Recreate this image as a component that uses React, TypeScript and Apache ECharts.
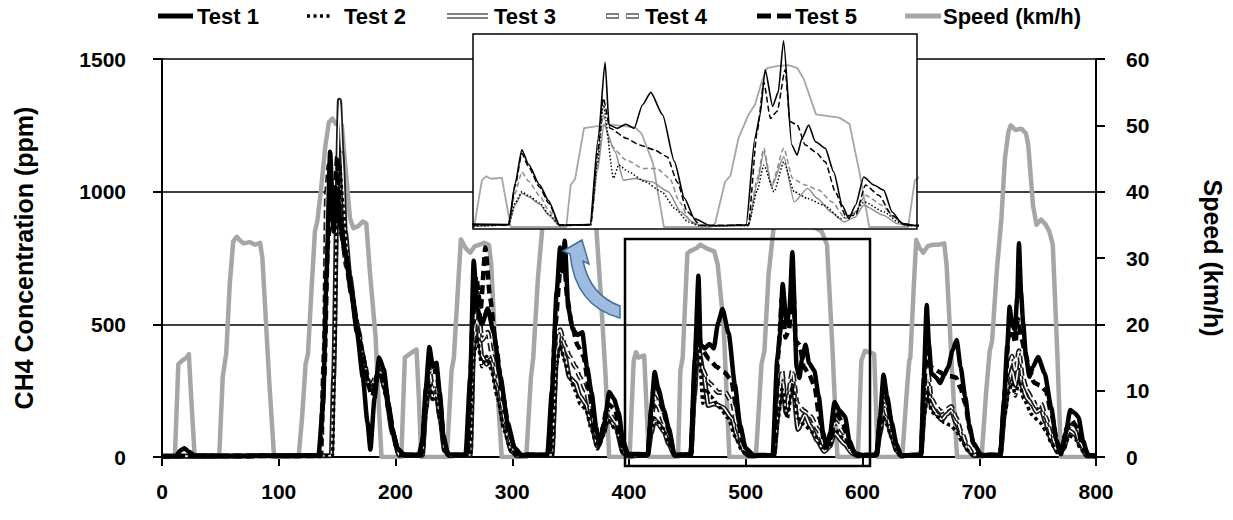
import React, { useEffect, useRef } from "react";
import * as echarts from "echarts";

type Pt = [number, number];

const X_TICKS = { min: 0, max: 800, interval: 100 };
const CH4_TICKS = { min: 0, max: 1500, interval: 500 };
const SPEED_TICKS = { min: 0, max: 60, interval: 10 };
const INSET_RANGE = { xMin: 400, xMax: 600, ch4Max: 800, speedMax: 60 };

const LEGEND_NAMES = ["Test 1", "Test 2", "Test 3", "Test 4", "Test 5", "Speed (km/h)"];

const SPEED: Pt[] = [
  [0, 0], [11, 0], [14, 14], [17, 14.5], [21, 15], [23, 15.5], [25, 9], [28, 0],
  [49, 0], [52, 12], [54, 14.5], [55, 15.5], [58, 26], [61, 32.5], [64, 33.2], [67, 32.6], [70, 32.2], [75, 32.4], [80, 32], [84, 32.3], [86, 30], [92, 11], [96, 0],
  [117, 0], [120, 6], [123, 14], [125, 15.5], [128, 25], [131, 34], [133, 35.5], [136, 40], [140, 47], [143, 50.5], [146, 51], [149, 50.2], [152, 50.5], [154, 50], [157, 44], [161, 36], [164, 34.5], [168, 34.8], [172, 35.5], [175, 35.2], [178, 28], [183, 18], [185, 10], [188, 0],
  [205, 0], [208, 15], [212, 15.5], [216, 16], [218, 16.2], [220, 9], [222, 0],
  [244, 0], [248, 13], [250, 15], [253, 24], [256, 32.8], [260, 31.5], [264, 30.8], [268, 31.8], [272, 32], [276, 32.3], [280, 32], [282, 29], [287, 11], [291, 0],
  [312, 0], [316, 12], [318, 15], [322, 27], [326, 35], [329, 40], [333, 48], [337, 50.5], [342, 51], [346, 50.5], [350, 50], [353, 44], [357, 37], [360, 35], [365, 35.2], [370, 35.5], [372, 34.5], [376, 24], [380, 12], [383, 0],
  [400.5, 0], [404, 14.5], [406, 15.8], [408, 15], [413, 15.3], [417, 0],
  [442, 0], [444, 13], [446, 15], [450, 30.7], [452, 31], [458, 31.5], [461, 32], [466, 31.5], [473, 31], [476, 29], [481, 20], [486, 0],
  [507, 0], [509, 1], [513.5, 14], [516, 16], [519.6, 27.6], [524, 34.8], [527, 38], [530, 45], [532.4, 49.4], [537, 50], [542, 50.3], [546, 49.5], [549, 46], [554.5, 35], [560, 34.5], [565, 34], [569.6, 32], [574, 17.3], [578.5, 0],
  [596, 0], [599, 14.5], [602, 16], [606, 15.8], [610, 15.5], [613, 0],
  [634, 0], [638, 10], [640, 14.5], [641, 15], [644, 26], [646, 32.7], [649, 31.5], [652, 30.8], [656, 31.8], [660, 32], [665, 32], [670, 32.2], [672, 29], [677, 12], [681, 0],
  [702, 0], [706, 10], [709, 16], [711, 17.5], [715, 28], [719, 36], [722, 45], [725, 49], [727, 50], [731, 49.3], [736, 49.5], [740, 48.8], [742, 47], [746, 38], [749, 35], [753, 35.8], [757, 35], [760, 34], [763, 32], [767, 15], [770, 0], [795, 0],
];

const TEST1: Pt[] = [
  [0, 3], [12, 5], [16, 25], [19, 33], [23, 20], [28, 6], [60, 4], [100, 5], [134, 6], [138, 200], [141, 700], [144, 1150], [147, 850], [150, 1000], [153, 880], [157, 770], [162, 620], [167, 470], [172, 300], [176, 130], [178.5, 28], [182, 220], [186, 375], [190, 330], [194, 200], [198, 90], [202, 30], [208, 8],
  [220, 8], [223, 60], [226, 260], [229, 415], [232, 340], [235, 355], [238, 240], [241, 80], [245, 10], [260, 8], [264, 300], [267, 740], [270, 560], [274, 500], [279, 560], [284, 470], [290, 300], [296, 130], [302, 35], [308, 8],
  [330, 8], [334, 250], [338, 620], [341, 790], [343, 700], [345, 815], [348, 560], [352, 480], [356, 460], [360, 470], [364, 340], [368, 240], [372, 110], [374.5, 45], [379, 130], [383, 245], [387, 220], [391, 170], [395, 60], [399, 12],
  [416, 10], [419, 180], [422, 320], [425, 260], [430, 175], [434, 110], [439, 8], [452.7, 10], [456.4, 368], [459.5, 683], [461.3, 423], [465, 409], [468.8, 426], [472.6, 409], [476.3, 506], [480.1, 558], [485.4, 465], [490.7, 272], [495.2, 120], [499.7, 35], [507, 5],
  [523, 8], [527, 368], [529.3, 465], [531.6, 652], [535, 500], [537.5, 560], [539.9, 772], [543.6, 340], [546, 298], [548.2, 368], [551.2, 423], [554.2, 354], [558.7, 326], [562.5, 228], [566.3, 90], [569.3, 35], [572.3, 90], [576, 207], [580.5, 174], [585, 153], [588.8, 62], [593.3, 14], [600.7, 5],
  [612, 8], [615, 150], [618, 310], [621, 230], [625, 130], [629, 50], [633, 6], [650, 8], [652.5, 300], [655, 573], [657, 420], [659, 316], [663, 300], [666.5, 279], [670, 310], [673.5, 339], [677, 400], [680.7, 441], [684, 340], [688, 226], [691.5, 120], [695, 53], [702, 6],
  [718, 8], [721, 200], [724, 420], [726, 566], [728, 500], [730.5, 479], [732.5, 600], [734, 806], [735.8, 620], [737.6, 505], [740, 380], [743, 302], [746, 340], [750.4, 377], [756, 316], [761.6, 188], [766, 64], [770, 10], [774, 90], [778, 177], [782, 165], [785, 150], [789, 60], [793, 8], [800, 5],
];

const TEST2: Pt[] = [
  [0, 3], [146, 5], [148, 400], [150, 900], [152, 1100], [155, 950], [158, 780], [163, 620], [168, 480], [173, 360], [178, 260], [183, 280], [187, 310], [192, 230], [198, 80], [203, 8],
  [223, 8], [226, 170], [229, 280], [232, 210], [235, 220], [238, 140], [242, 20], [246, 5], [264, 8], [267, 380], [270, 450], [274, 340], [278, 380], [282, 330], [287, 230], [293, 100], [299, 20], [304, 5],
  [334, 8], [338, 350], [341, 420], [345, 360], [349, 300], [354, 250], [358, 200], [363, 180], [368, 100], [373, 30], [378, 80], [382, 140], [389, 100], [395, 10], [400, 4],
  [416, 8], [419, 100], [422, 146], [425, 130], [430, 100], [434, 55], [439, 6], [453, 8], [456, 260], [458.7, 506], [463.3, 202], [465.6, 257], [470, 229], [477.6, 187], [485, 146], [491, 76], [497, 21], [502, 5],
  [524, 6], [528, 150], [531, 256], [535.6, 146], [540, 270], [544.7, 146], [550.7, 118], [558.2, 90], [565.7, 35], [571, 50], [576.2, 104], [585.3, 62], [591.3, 21], [596, 5],
  [612, 8], [615, 80], [618, 150], [621, 120], [625, 70], [629, 20], [633, 5], [650, 8], [653, 160], [656, 250], [659, 170], [665, 150], [670, 130], [675, 120], [680, 100], [685, 60], [690, 25], [695, 5],
  [718, 8], [722, 160], [725, 240], [728, 280], [731, 230], [734, 290], [738, 220], [745, 160], [752, 130], [757, 100], [762, 50], [767, 15], [772, 25], [777, 80], [782, 70], [787, 30], [792, 5], [800, 3],
];

const TEST3: Pt[] = [
  [0, 3], [145, 5], [147, 300], [150, 1000], [152, 1345], [154, 1150], [157, 850], [161, 680], [166, 520], [171, 400], [176, 290], [181, 250], [186, 330], [191, 260], [197, 100], [203, 8],
  [223, 8], [226, 180], [229, 300], [232, 220], [235, 240], [238, 150], [242, 25], [246, 5], [264, 8], [267, 420], [270, 520], [274, 380], [278, 350], [282, 370], [287, 260], [293, 120], [299, 25], [304, 5],
  [334, 8], [338, 380], [341, 460], [345, 380], [349, 300], [354, 280], [358, 230], [363, 200], [368, 120], [373, 40], [378, 90], [382, 150], [389, 110], [395, 15], [400, 4],
  [416, 8], [419, 90], [422, 140], [425, 125], [430, 95], [434, 50], [439, 6], [453, 8], [456, 230], [459, 423], [464, 312], [467.8, 194], [473, 201], [480.6, 187], [488, 146], [493.6, 62], [499.7, 14], [504, 5],
  [524, 6], [528, 180], [531, 312], [534.5, 167], [540, 291], [544.7, 104], [550.7, 160], [555.2, 118], [561.2, 62], [567.2, 21], [572, 40], [576, 90], [585, 48], [591, 14], [596, 5],
  [612, 8], [615, 90], [618, 170], [621, 140], [625, 80], [629, 25], [633, 5], [650, 8], [653, 180], [656, 280], [659, 190], [664, 160], [668, 140], [672, 160], [676, 177], [680, 130], [685, 80], [690, 30], [695, 6],
  [718, 8], [722, 180], [725, 280], [728, 330], [731, 270], [734, 350], [737, 260], [741, 220], [745, 200], [749, 170], [753, 180], [757, 130], [762, 60], [767, 20], [772, 30], [777, 100], [782, 85], [787, 40], [792, 5], [800, 3],
];

const TEST4: Pt[] = [
  [0, 3], [136, 5], [139, 400], [141, 1000], [143, 1100], [146, 900], [150, 1000], [154, 850], [158, 720], [163, 600], [168, 480], [173, 360], [178, 260], [183, 300], [187, 320], [192, 240], [198, 80], [203, 8],
  [223, 8], [226, 200], [229, 330], [232, 250], [235, 270], [238, 170], [242, 30], [246, 5], [264, 8], [267, 450], [270, 620], [274, 440], [279, 470], [283, 380], [288, 280], [294, 130], [300, 30], [305, 6],
  [334, 8], [338, 400], [341, 480], [345, 420], [349, 380], [354, 340], [358, 300], [363, 250], [368, 160], [373, 60], [378, 110], [382, 170], [389, 130], [395, 20], [400, 5],
  [416, 8], [419, 140], [422, 228], [425, 190], [430, 130], [434, 70], [439, 6], [453, 8], [456, 250], [458.7, 465], [461.7, 340], [469, 278], [476.6, 243], [482.6, 243], [488.6, 202], [493, 104], [497.6, 28], [502, 6],
  [524, 6], [528, 200], [531, 326], [534.5, 174], [540, 326], [544, 201], [549.7, 174], [555.7, 153], [561.7, 104], [567.8, 35], [572, 60], [576.8, 132], [584.3, 90], [590, 35], [595, 6],
  [612, 8], [615, 110], [618, 200], [621, 160], [625, 90], [629, 30], [633, 5], [650, 8], [653, 200], [656, 320], [659, 220], [663, 190], [667, 170], [672, 180], [676, 190], [680, 150], [685, 90], [690, 40], [695, 8],
  [718, 8], [722, 200], [725, 330], [728, 380], [731, 320], [734, 400], [737, 300], [741, 250], [745, 220], [749, 190], [753, 200], [757, 150], [762, 80], [767, 30], [772, 40], [777, 120], [782, 100], [787, 50], [792, 6], [800, 4],
];

const TEST5: Pt[] = [
  [0, 3], [60, 4], [135, 5], [139, 300], [142, 800], [145, 950], [148, 1000], [150, 1130], [153, 850], [157, 760], [162, 640], [167, 500], [172, 380], [176, 280], [180, 230], [185, 320], [189, 300], [195, 160], [201, 35], [207, 6],
  [222, 8], [226, 230], [229, 390], [232, 320], [235, 330], [238, 220], [242, 40], [246, 6], [262, 8], [266, 500], [269, 680], [273, 560], [277, 790], [281, 600], [286, 420], [292, 230], [298, 80], [304, 10],
  [332, 8], [337, 500], [341, 700], [344, 780], [347, 600], [351, 500], [356, 420], [361, 380], [366, 250], [371, 80], [375, 60], [382, 200], [388, 180], [394, 40], [399, 8],
  [416, 8], [419, 170], [422, 305], [425, 250], [430, 165], [434, 100], [439, 8], [453, 10], [456, 300], [458.7, 534], [461.7, 409], [469, 368], [475, 340], [481.6, 320], [487.5, 291], [492, 187], [496.6, 62], [502.5, 7],
  [524, 8], [528, 395], [531, 600], [534, 450], [537, 480], [540.6, 652], [542.8, 437], [546, 423], [549.7, 340], [554.2, 312], [558.7, 270], [563.2, 146], [567.8, 48], [572.3, 48], [576.8, 174], [582.8, 132], [588.8, 48], [594.8, 7],
  [612, 8], [615, 140], [618, 280], [621, 210], [625, 120], [629, 45], [633, 6], [650, 8], [652.5, 250], [655, 400], [658, 340], [662, 330], [666, 320], [670, 310], [675, 305], [680, 300], [684, 260], [688, 200], [692, 100], [695, 50], [700, 8],
  [718, 8], [722, 250], [725, 450], [728, 480], [731, 430], [733, 520], [736, 450], [739, 400], [743, 330], [747, 280], [752, 270], [757, 250], [762, 160], [767, 50], [771, 30], [775, 110], [779, 140], [784, 110], [789, 40], [794, 6], [800, 4],
];

const FONT = '"Liberation Sans", Arial, Helvetica, sans-serif';

const ARROW_PATH =
  "M 582 240 L 589 264 L 583 261 Q 590 295 620 306 L 620 318 Q 575 306 570 254 L 563 251 Z";
echarts.graphic.registerShape("curvedArrow", echarts.graphic.extendPath(ARROW_PATH, {}) as any);

function line(
  name: string,
  data: Pt[],
  xi: number,
  yi: number,
  color: string,
  width: number,
  type: any,
  z: number,
  smooth: number | boolean = 0.2
) {
  return {
    type: "line",
    name,
    data,
    xAxisIndex: xi,
    yAxisIndex: yi,
    showSymbol: false,
    symbol: "none",
    silent: true,
    smooth,
    smoothMonotone: "x",
    z,
    clip: true,
    lineStyle: { color, width, type, cap: "butt", join: "round" },
  };
}

function legendGraphics() {
  const y = 16;
  const tx = (x: number, t: string) => ({
    type: "text",
    x,
    y,
    z: 50,
    style: { text: t, fill: "#000", fontSize: 22, fontWeight: "bold", fontFamily: FONT, verticalAlign: "middle" },
  });
  const ln = (x1: number, x2: number, color: string, w: number, dash?: number[]) => ({
    type: "line",
    z: 50,
    shape: { x1, y1: y, x2, y2: y },
    style: { stroke: color, lineWidth: w, lineDash: dash || null },
  });
  return [
    ln(158, 193, "#000", 5),
    tx(197, LEGEND_NAMES[0]),
    ln(307, 333, "#000", 3.5, [3, 3.5]),
    tx(344, LEGEND_NAMES[1]),
    ln(447, 488, "#7f7f7f", 6),
    ln(447, 488, "#fff", 2),
    tx(494, LEGEND_NAMES[2]),
    ln(606, 640, "#7f7f7f", 6, [13, 7]),
    ln(607, 639, "#fff", 2, [11, 9]),
    tx(645, LEGEND_NAMES[3]),
    ln(757, 791, "#000", 5, [14, 6]),
    tx(795, LEGEND_NAMES[4]),
    ln(905, 941, "#a6a6a6", 5),
    tx(943, LEGEND_NAMES[5]),
  ];
}

export default function App() {
  const ref = useRef<HTMLDivElement>(null);
  useEffect(() => {
    if (!ref.current) return;
    const chart = echarts.init(ref.current, undefined, { renderer: "svg" });
    const axisLabel = {
      color: "#000",
      fontSize: 21,
      fontWeight: "bold",
      fontFamily: FONT,
      formatter: (v: number) => String(v),
    };
    const option: any = {
      animation: false,
      backgroundColor: "#fff",
      textStyle: { fontFamily: FONT },
      grid: [
        { left: 162, right: 135, top: 59, bottom: 63 },
        { left: 473, top: 34, width: 444, height: 193 },
      ],
      xAxis: [
        {
          type: "value",
          gridIndex: 0,
          min: X_TICKS.min,
          max: X_TICKS.max,
          interval: X_TICKS.interval,
          axisLine: { show: true, lineStyle: { color: "#000", width: 2 } },
          axisTick: { show: true, length: 9, lineStyle: { color: "#000", width: 2 } },
          axisLabel: { ...axisLabel, margin: 24 },
          splitLine: { show: false },
        },
        { type: "value", gridIndex: 1, min: INSET_RANGE.xMin, max: INSET_RANGE.xMax, show: false },
      ],
      yAxis: [
        {
          type: "value",
          gridIndex: 0,
          min: CH4_TICKS.min,
          max: CH4_TICKS.max,
          interval: CH4_TICKS.interval,
          name: "CH4 Concentration (ppm)",
          nameLocation: "middle",
          nameGap: 126,
          nameTextStyle: { color: "#000", fontSize: 25, fontWeight: "bold", fontFamily: FONT },
          axisLine: { show: true, lineStyle: { color: "#000", width: 2 } },
          axisTick: { show: true, length: 9, lineStyle: { color: "#000", width: 2 } },
          axisLabel: { ...axisLabel, margin: 36 },
          splitLine: { show: true, lineStyle: { color: "#000", width: 1.5 } },
        },
        {
          type: "value",
          gridIndex: 0,
          position: "right",
          min: SPEED_TICKS.min,
          max: SPEED_TICKS.max,
          interval: SPEED_TICKS.interval,
          name: "Speed (km/h)",
          nameLocation: "middle",
          nameGap: 104,
          nameRotate: -90,
          nameTextStyle: { color: "#000", fontSize: 25, fontWeight: "bold", fontFamily: FONT },
          axisLine: { show: true, lineStyle: { color: "#000", width: 2 } },
          axisTick: { show: true, length: 9, lineStyle: { color: "#000", width: 2 } },
          axisLabel: { ...axisLabel, margin: 30 },
          splitLine: { show: false },
        },
        { type: "value", gridIndex: 1, min: 0, max: INSET_RANGE.ch4Max, show: false },
        { type: "value", gridIndex: 1, min: 0, max: INSET_RANGE.speedMax, show: false },
      ],
      series: [
        // main chart
        line("Speed (km/h)", SPEED, 0, 1, "#a6a6a6", 4.5, "solid", 2, false),
        line("Test 3", TEST3, 0, 0, "#1a1a1a", 5, "solid", 3),
        line("Test 3 inner", TEST3, 0, 0, "#ffffff", 1.6, "solid", 3),
        line("Test 4", TEST4, 0, 0, "#1a1a1a", 5, [8, 4], 4),
        line("Test 4 inner", TEST4, 0, 0, "#ffffff", 1.6, [8, 4], 4),
        line("Test 2", TEST2, 0, 0, "#000", 3.5, [3.5, 3], 5),
        line("Test 5", TEST5, 0, 0, "#000", 4.5, [9, 5], 6),
        line("Test 1", TEST1, 0, 0, "#000", 4.5, "solid", 7),
        // inset
        line("Speed inset", SPEED, 1, 3, "#a6a6a6", 1.8, "solid", 10, false),
        line("Test 3 inset", TEST3, 1, 2, "#8c8c8c", 1.4, "solid", 11),
        line("Test 4 inset", TEST4, 1, 2, "#8c8c8c", 1.5, [5, 3], 12),
        line("Test 2 inset", TEST2, 1, 2, "#000", 1.5, [1.5, 2], 13),
        line("Test 5 inset", TEST5, 1, 2, "#000", 1.5, [6, 3], 14),
        line("Test 1 inset", TEST1, 1, 2, "#000", 1.6, "solid", 15),
      ],
      graphic: [
        {
          type: "rect",
          z: 8,
          silent: true,
          shape: { x: 473, y: 34, width: 444, height: 195 },
          style: { fill: "#fff", stroke: null },
        },
        {
          type: "rect",
          z: 30,
          silent: true,
          shape: { x: 473, y: 34, width: 444, height: 195 },
          style: { fill: "none", stroke: "#000", lineWidth: 1.5 },
        },
        {
          type: "rect",
          z: 30,
          silent: true,
          shape: { x: 625, y: 239, width: 245, height: 227 },
          style: { fill: "none", stroke: "#000", lineWidth: 2.5 },
        },
        {
          type: "curvedArrow",
          z: 31,
          silent: true,
          x: 0,
          y: 0,
          style: { fill: "#9fbbe0", stroke: "#41719c", lineWidth: 1.5 },
        },
        ...legendGraphics(),
      ],
    };
    chart.setOption(option);
    return () => chart.dispose();
  }, []);
  return (
    <div
      ref={ref}
      style={{ position: "fixed", left: 0, top: 0, width: 1233, height: 520, background: "#fff" }}
    />
  );
}
